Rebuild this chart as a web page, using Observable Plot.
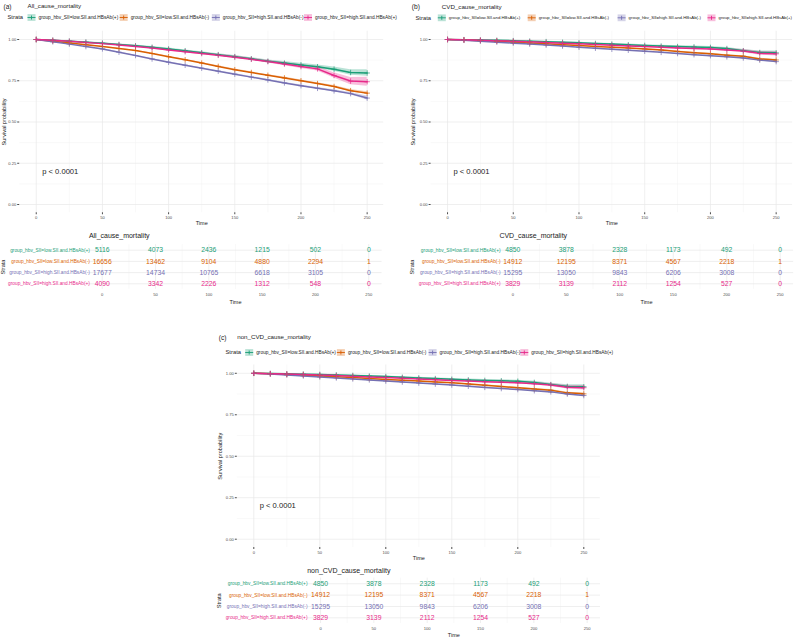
<!DOCTYPE html>
<html><head><meta charset="utf-8">
<script src="https://cdn.jsdelivr.net/npm/d3@7"></script>
<script src="https://cdn.jsdelivr.net/npm/@observablehq/plot@0.6"></script>
<style>
body{margin:0;background:#fff;}
#root{position:relative;width:796px;height:638px;overflow:hidden;background:#fff;}
</style></head><body><div id="root"></div>
<script>
// ---------- data ----------
const strata = ["group_hbv_SII=low.SII.and.HBsAb(+)","group_hbv_SII=low.SII.and.HBsAb(-)","group_hbv_SII=high.SII.and.HBsAb(-)","group_hbv_SII=high.SII.and.HBsAb(+)"];
const strataColors = ["#1B9E77","#D95F02","#7570B3","#E7298A"];
const times = [0,12.5,25,37.5,50,62.5,75,87.5,100,112.5,125,137.5,150,162.5,175,187.5,200,212.5,225,237.5,250];

// (a) All cause mortality: survival estimates
const allLowPos  = [1.0,0.996,0.99,0.984,0.978,0.97,0.962,0.953,0.943,0.932,0.92,0.908,0.896,0.883,0.868,0.857,0.846,0.835,0.82,0.80,0.797];
const allLowNeg  = [1.0,0.99,0.979,0.968,0.957,0.945,0.933,0.915,0.896,0.877,0.857,0.837,0.817,0.80,0.783,0.767,0.75,0.733,0.715,0.69,0.675];
const allHighNeg = [1.0,0.986,0.972,0.957,0.943,0.923,0.903,0.882,0.862,0.844,0.826,0.808,0.79,0.772,0.755,0.737,0.72,0.704,0.689,0.672,0.645];
const allHighPos = [1.0,0.995,0.989,0.982,0.975,0.967,0.958,0.948,0.937,0.926,0.915,0.904,0.893,0.88,0.866,0.851,0.836,0.822,0.782,0.748,0.744];
// (a) confidence half-widths
const allCiLowPos  = [0,0.001,0.002,0.002,0.003,0.003,0.004,0.004,0.005,0.005,0.006,0.006,0.007,0.007,0.008,0.009,0.01,0.011,0.013,0.017,0.02];
const allCiLowNeg  = [0,0.001,0.001,0.002,0.002,0.002,0.002,0.003,0.003,0.003,0.003,0.004,0.004,0.004,0.004,0.005,0.005,0.005,0.006,0.007,0.008];
const allCiHighNeg = [0,0.001,0.001,0.001,0.002,0.002,0.002,0.002,0.003,0.003,0.003,0.003,0.004,0.004,0.004,0.004,0.005,0.005,0.006,0.007,0.012];
const allCiHighPos = [0,0.002,0.003,0.003,0.004,0.004,0.005,0.005,0.006,0.006,0.007,0.007,0.008,0.008,0.009,0.01,0.011,0.013,0.016,0.022,0.027];

// (b) CVD cause mortality
const cvdLowPos  = [1.0,0.999,0.997,0.995,0.993,0.99,0.987,0.983,0.98,0.976,0.972,0.968,0.964,0.96,0.957,0.955,0.952,0.945,0.932,0.921,0.919];
const cvdLowNeg  = [1.0,0.997,0.993,0.989,0.984,0.979,0.974,0.968,0.963,0.958,0.953,0.948,0.943,0.936,0.928,0.92,0.913,0.905,0.898,0.882,0.876];
const cvdHighNeg = [1.0,0.995,0.99,0.984,0.978,0.972,0.966,0.96,0.953,0.947,0.941,0.935,0.929,0.922,0.915,0.908,0.902,0.895,0.888,0.875,0.866];
const cvdHighPos = [1.0,0.998,0.996,0.993,0.99,0.986,0.982,0.978,0.974,0.97,0.965,0.961,0.957,0.953,0.949,0.946,0.943,0.937,0.93,0.916,0.913];
const cvdCiLowPos  = [0,0.001,0.001,0.001,0.002,0.002,0.002,0.003,0.003,0.003,0.004,0.004,0.004,0.005,0.005,0.006,0.006,0.007,0.008,0.01,0.012];
const cvdCiLowNeg  = [0,0,0.001,0.001,0.001,0.001,0.001,0.002,0.002,0.002,0.002,0.002,0.002,0.003,0.003,0.003,0.003,0.003,0.004,0.004,0.005];
const cvdCiHighNeg = [0,0,0.001,0.001,0.001,0.001,0.001,0.002,0.002,0.002,0.002,0.002,0.002,0.003,0.003,0.003,0.003,0.003,0.004,0.005,0.006];
const cvdCiHighPos = [0,0.001,0.001,0.002,0.002,0.002,0.003,0.003,0.003,0.004,0.004,0.004,0.005,0.005,0.006,0.006,0.007,0.008,0.009,0.011,0.013];

// (c) non-CVD cause mortality
const nonLowPos  = [1.0,0.999,0.997,0.995,0.993,0.99,0.987,0.983,0.98,0.976,0.972,0.968,0.964,0.96,0.957,0.955,0.952,0.945,0.932,0.921,0.919];
const nonLowNeg  = [1.0,0.997,0.993,0.989,0.984,0.979,0.974,0.968,0.963,0.958,0.953,0.948,0.943,0.936,0.928,0.92,0.913,0.905,0.898,0.882,0.876];
const nonHighNeg = [1.0,0.995,0.99,0.984,0.978,0.972,0.966,0.96,0.953,0.947,0.941,0.935,0.929,0.922,0.915,0.908,0.902,0.895,0.888,0.875,0.866];
const nonHighPos = [1.0,0.998,0.996,0.993,0.99,0.986,0.982,0.978,0.974,0.97,0.965,0.961,0.957,0.953,0.949,0.946,0.943,0.937,0.93,0.916,0.913];
const nonCiLowPos  = [0,0.001,0.001,0.001,0.002,0.002,0.002,0.003,0.003,0.003,0.004,0.004,0.004,0.005,0.005,0.006,0.006,0.007,0.008,0.01,0.012];
const nonCiLowNeg  = [0,0,0.001,0.001,0.001,0.001,0.001,0.002,0.002,0.002,0.002,0.002,0.002,0.003,0.003,0.003,0.003,0.003,0.004,0.004,0.005];
const nonCiHighNeg = [0,0,0.001,0.001,0.001,0.001,0.001,0.002,0.002,0.002,0.002,0.002,0.002,0.003,0.003,0.003,0.003,0.003,0.004,0.005,0.006];
const nonCiHighPos = [0,0.001,0.001,0.002,0.002,0.002,0.003,0.003,0.003,0.004,0.004,0.004,0.005,0.005,0.006,0.006,0.007,0.008,0.009,0.011,0.013];

// numbers at risk
const riskTimes = [0,50,100,150,200,250];
const allRiskLowPos  = [5116,4073,2436,1215,502,0];
const allRiskLowNeg  = [16656,13462,9104,4880,2294,1];
const allRiskHighNeg = [17677,14734,10765,6618,3105,0];
const allRiskHighPos = [4090,3342,2226,1312,548,0];
const cvdRiskLowPos  = [4850,3878,2328,1173,492,0];
const cvdRiskLowNeg  = [14912,12195,8371,4567,2218,1];
const cvdRiskHighNeg = [15295,13050,9843,6206,3008,0];
const cvdRiskHighPos = [3829,3139,2112,1254,527,0];
const nonRiskLowPos  = [4850,3878,2328,1173,492,0];
const nonRiskLowNeg  = [14912,12195,8371,4567,2218,1];
const nonRiskHighNeg = [15295,13050,9843,6206,3008,0];
const nonRiskHighPos = [3829,3139,2112,1254,527,0];

const xTicks = [0,50,100,150,200,250];
const xMinor = [25,75,125,175,225];
const yTicks = [0,0.25,0.5,0.75,1];
const yMinor = [0.125,0.375,0.625,0.875];
const pvalText = "p < 0.0001";
const pvalPos = {t: 4.5, s: 0.2};

// ---------- helpers ----------
const root = document.getElementById("root");
const FONT = "'Liberation Sans', Arial, Helvetica, sans-serif";
function place(svg, left, top, clip) {
  svg.style.position = "absolute";
  svg.style.left = left + "px";
  svg.style.top = top + "px";
  svg.style.background = "transparent";
  svg.style.fontFamily = FONT;
  svg.style.color = "#1a1a1a";
  svg.style.overflow = clip ? "hidden" : "visible";
  svg.style.maxWidth = "none";
  root.appendChild(svg);
}
function survRows(surv, ci) {
  const rows = [];
  surv.forEach((arr, i) => arr.forEach((s, j) => rows.push({
    stratum: strata[i], t: times[j], s, lo: s - ci[i][j], hi: Math.min(1, s + ci[i][j])
  })));
  return rows;
}
const keyBox = {draw(ctx) { ctx.rect(-4, -3.4, 8, 6.8); }};
const keyMark = {draw(ctx) { ctx.moveTo(-4, 0); ctx.lineTo(4, 0); ctx.moveTo(0, -2); ctx.lineTo(0, 2); }};

function header(o) {
  const svg = Plot.plot({
    width: o.width, height: o.height, marginLeft: 0, marginRight: 0, marginTop: 0, marginBottom: 0,
    x: {domain: [0, 3], range: [o.k0, o.k3], axis: null},
    color: {domain: strata, range: strataColors},
    marks: [
      Plot.text([o.tag], {frameAnchor: "top-left", textAnchor: "start", lineAnchor: "middle", dx: o.tagX, dy: o.titleY, fontSize: 6.6}),
      Plot.text([o.title], {frameAnchor: "top-left", textAnchor: "start", lineAnchor: "middle", dx: o.titleX, dy: o.titleY, fontSize: 6.2}),
      Plot.text(["Strata"], {frameAnchor: "top-left", textAnchor: "start", lineAnchor: "middle", dx: o.strataX, dy: o.legendY, fontSize: 5.8}),
      Plot.dot(strata, {x: (d, i) => i, frameAnchor: "top", dy: o.legendY, symbol: keyBox, fill: d => d, fillOpacity: 0.3}),
      Plot.dot(strata, {x: (d, i) => i, frameAnchor: "top", dy: o.legendY, symbol: keyMark, stroke: d => d, fill: "none", strokeWidth: 0.9}),
      Plot.text(strata, {x: (d, i) => i, frameAnchor: "top", textAnchor: "start", lineAnchor: "middle", dy: o.legendY, dx: 7, fontSize: o.legendFont, fill: "#1a1a1a"})
    ]
  });
  place(svg, o.left, o.top, true);
}

function survPlot(o) {
  const rows = survRows(o.surv, o.ci);
  const svg = Plot.plot({
    width: o.width, height: o.height,
    marginLeft: o.ml, marginRight: o.mr, marginTop: o.mt, marginBottom: o.mb,
    x: {domain: [-12.5, 262.5]},
    y: {domain: [-0.05, 1.05]},
    color: {domain: strata, range: strataColors},
    marks: [
      Plot.ruleX(xMinor, {stroke: "#f3f3f3", strokeWidth: 0.5}),
      Plot.ruleY(yMinor, {stroke: "#f3f3f3", strokeWidth: 0.5}),
      Plot.ruleX(xTicks, {stroke: "#e8e8e8", strokeWidth: 0.7}),
      Plot.ruleY(yTicks, {stroke: "#e8e8e8", strokeWidth: 0.7}),
      Plot.areaY(rows, {x: "t", y1: "lo", y2: "hi", fill: "stratum", fillOpacity: 0.3}),
      Plot.line(rows, {x: "t", y: "s", stroke: "stratum", strokeWidth: 1.5}),
      Plot.dot(rows, {x: "t", y: "s", stroke: "stratum", symbol: "plus", r: 1.9, strokeWidth: 0.7}),
      Plot.axisX({ticks: xTicks, tickSize: 2, tickPadding: 1.5, fontSize: 4.1, color: "#4d4d4d", label: null}),
      Plot.axisY({ticks: yTicks, tickFormat: d3.format(".2f"), tickSize: 2, tickPadding: 1.5, fontSize: 4.1, color: "#4d4d4d", label: null}),
      Plot.text(["Time"], {frameAnchor: "bottom", lineAnchor: "middle", dy: o.timeDy, fontSize: 5.5, fill: "#1a1a1a"}),
      Plot.text(["Survival probability"], {frameAnchor: "left", textAnchor: "middle", lineAnchor: "middle", rotate: -90, dx: o.ylabDx, fontSize: 5.6, fill: "#1a1a1a"}),
      Plot.text([pvalPos], {x: "t", y: "s", text: () => pvalText, textAnchor: "start", fontSize: 7.6, fill: "#1a1a1a"})
    ]
  });
  place(svg, o.left, o.top, false);
}

function riskTable(o) {
  const rows = [];
  o.risk.forEach((arr, i) => arr.forEach((n, j) => rows.push({stratum: strata[i], row: i, t: riskTimes[j], n})));
  const svg = Plot.plot({
    width: o.width, height: o.height,
    marginLeft: o.ml, marginRight: o.mr, marginTop: o.mt, marginBottom: o.mb,
    x: {domain: [-12.5, 262.5]},
    y: {domain: [strata.length - 0.5, -0.5], axis: null},
    color: {domain: strata, range: strataColors},
    marks: [
      Plot.ruleX(xMinor, {stroke: "#f3f3f3", strokeWidth: 0.5}),
      Plot.ruleX(xTicks, {stroke: "#e8e8e8", strokeWidth: 0.7}),
      Plot.ruleY(strata, {y: (d, i) => i, stroke: "#e8e8e8", strokeWidth: 0.7}),
      Plot.text(rows, {x: "t", y: "row", text: d => String(d.n), fill: "stratum", fontSize: 6.8}),
      Plot.text(strata, {x: () => -12.5, y: (d, i) => i, text: d => d, fill: d => d, textAnchor: "end", dx: o.labDx, fontSize: 4.8}),
      Plot.axisX({ticks: xTicks, tickSize: 0, tickPadding: 4, fontSize: 4.1, color: "#4d4d4d", label: null}),
      Plot.text([o.title], {frameAnchor: "top-left", textAnchor: "start", lineAnchor: "middle", dy: o.titleDy, fontSize: 7, fill: "#1a1a1a"}),
      Plot.text(["Time"], {frameAnchor: "bottom", lineAnchor: "middle", dy: o.timeDy, fontSize: 5.5, fill: "#1a1a1a"}),
      Plot.text(["Strata"], {frameAnchor: "left", textAnchor: "middle", lineAnchor: "middle", rotate: -90, dx: o.strataDx, fontSize: 5.6, fill: "#1a1a1a"})
    ]
  });
  place(svg, o.left, o.top, false);
}

// ---------- panel (a) ----------
header({left: 0, top: 0, width: 398, height: 24, tag: "(a)", title: "All_cause_mortality",
  tagX: 3, titleX: 27, titleY: 6, strataX: 7, legendY: 17, k0: 31, k3: 307.5, legendFont: 4.8});
survPlot({left: 0, top: 28, width: 398, height: 204, ml: 19.2, mr: 14.8, mt: 2.75, mb: 19.75,
  surv: [allLowPos, allLowNeg, allHighNeg, allHighPos], ci: [allCiLowPos, allCiLowNeg, allCiHighNeg, allCiHighPos],
  timeDy: 10.75, ylabDx: -15.9});
riskTable({left: 0, top: 230, width: 398, height: 76, ml: 88.4, mr: 16.4, mt: 14.1, mb: 17.1,
  risk: [allRiskLowPos, allRiskLowNeg, allRiskHighNeg, allRiskHighPos], title: "All_cause_mortality",
  labDx: 1, titleDy: -8.4, timeDy: 12.8, strataDx: -85.4});

// ---------- panel (b) ----------
header({left: 398, top: 0, width: 398, height: 24, tag: "(b)", title: "CVD_cause_mortality",
  tagX: 13.3, titleX: 43.3, titleY: 6.5, strataX: 17, legendY: 17.3, k0: 43.3, k3: 313, legendFont: 4.3});
survPlot({left: 398, top: 28, width: 398, height: 204, ml: 32.6, mr: 3.9, mt: 2.75, mb: 19.75,
  surv: [cvdLowPos, cvdLowNeg, cvdHighNeg, cvdHighPos], ci: [cvdCiLowPos, cvdCiLowNeg, cvdCiHighNeg, cvdCiHighPos],
  timeDy: 10.75, ylabDx: -17.6});
riskTable({left: 398, top: 230, width: 398, height: 76, ml: 100.9, mr: 2.9, mt: 14.1, mb: 17.1,
  risk: [cvdRiskLowPos, cvdRiskLowNeg, cvdRiskHighNeg, cvdRiskHighPos], title: "CVD_cause_mortality",
  labDx: 1.2, titleDy: -8.4, timeDy: 12.8, strataDx: -86.9});

// ---------- panel (c) ----------
header({left: 200, top: 330, width: 420, height: 28, tag: "(c)", title: "non_CVD_cause_mortality",
  tagX: 18.3, titleX: 36.7, titleY: 7, strataX: 25, legendY: 22, k0: 48.7, k3: 323.8, legendFont: 4.8});
survPlot({left: 200, top: 362, width: 400, height: 204, ml: 36.8, mr: 0.2, mt: 2.5, mb: 19,
  surv: [nonLowPos, nonLowNeg, nonHighNeg, nonHighPos], ci: [nonCiLowPos, nonCiLowNeg, nonCiHighNeg, nonCiHighPos],
  timeDy: 11, ylabDx: -16.8});
riskTable({left: 200, top: 562, width: 400, height: 76, ml: 106.7, mr: 0, mt: 15.6, mb: 15,
  risk: [nonRiskLowPos, nonRiskLowNeg, nonRiskHighNeg, nonRiskHighPos], title: "non_CVD_cause_mortality",
  labDx: 0.3, titleDy: -7.6, timeDy: 11.3, strataDx: -87.7});
</script>
</body></html>
